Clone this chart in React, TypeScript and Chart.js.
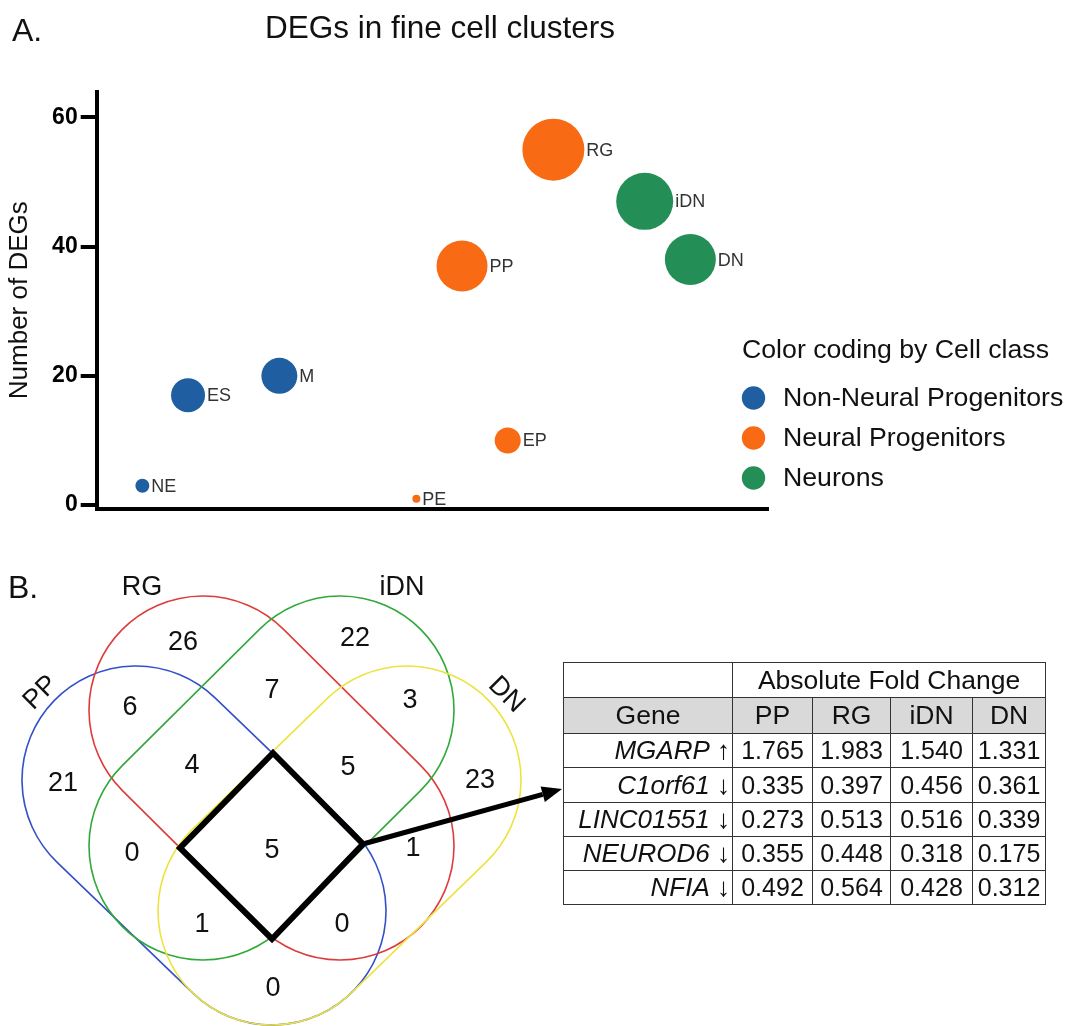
import React, { useEffect, useRef } from "react";
import { Chart, registerables } from "chart.js";

Chart.register(...registerables);

const FONT = "'Liberation Sans', Arial, Helvetica, sans-serif";

// ---------- Panel A data ----------
const figureTitle = "DEGs in fine cell clusters";
const yAxisTitle = "Number of DEGs";
const legendTitle = "Color coding by Cell class";
const cellClasses = ["Non-Neural Progenitors", "Neural Progenitors", "Neurons"];
const classColors = ["#1f5fa1", "#f86a14", "#238f56"];
const clusterNames = ["NE", "ES", "M", "PE", "PP", "EP", "RG", "iDN", "DN"];
const clusterClass = [0, 0, 0, 1, 1, 1, 1, 2, 2];
const clusterPosition = [1, 2, 4, 7, 8, 9, 10, 12, 13];
const clusterDEGs = [3, 17, 20, 1, 37, 10, 55, 47, 38];
const clusterBubbleRadius = [7, 17, 18, 4, 25.5, 13, 31, 28.5, 25.5];
const yTicks = [0, 20, 40, 60];

// ---------- Panel B data ----------
const vennSets = ["PP", "RG", "iDN", "DN"];
const vennSetColors = ["#3350c8", "#de3b3b", "#31a83a", "#ede340"];
const vennRegions = [
  "PP", "RG", "iDN", "DN",
  "PP∩RG", "RG∩iDN", "iDN∩DN",
  "PP∩RG∩iDN", "RG∩iDN∩DN", "PP∩iDN",
  "PP∩RG∩iDN∩DN", "PP∩iDN∩DN", "RG∩DN", "PP∩RG∩DN", "PP∩DN",
];
const vennCounts = [21, 26, 22, 23, 6, 7, 3, 4, 5, 0, 5, 1, 1, 0, 0];

const tableHeader = "Absolute Fold Change";
const tableGroups = ["PP", "RG", "iDN", "DN"];
const genes = ["MGARP", "C1orf61", "LINC01551", "NEUROD6", "NFIA"];
const geneDirection = ["↑", "↓", "↓", "↓", "↓"];
const foldPP = ["1.765", "0.335", "0.273", "0.355", "0.492"];
const foldRG = ["1.983", "0.397", "0.513", "0.448", "0.564"];
const foldIDN = ["1.540", "0.456", "0.516", "0.318", "0.428"];
const foldDN = ["1.331", "0.361", "0.339", "0.175", "0.312"];

// ---------- Venn layout (page coordinates) ----------
const vennShapeAxes = [
  [136, 780, 272, 911],
  [203, 710, 340, 846],
  [340, 710, 203, 846],
  [407, 780, 272, 911],
];
const vennShapeRadius = 114;
const vennRegionPos = [
  [63, 783], [183, 642], [355, 638], [480, 780],
  [130, 707], [272, 690], [410, 700],
  [192, 765], [348, 767], [132, 853],
  [272, 850], [202, 924], [413, 848], [342, 924], [273, 988],
];
const vennSetLabelPos = [
  [40, 692, -45],
  [142, 587, 0],
  [402, 587, 0],
  [507, 694, 45],
];
const diamondPts = [[273, 753], [363, 844], [272, 939], [180, 848]];
const arrowPts = [[363, 844], [562, 789]];

const bubbleLabelPlugin = {
  id: "bubbleLabels",
  afterDatasetsDraw(chart: any) {
    const ctx = chart.ctx;
    ctx.save();
    ctx.font = `18px ${FONT}`;
    ctx.fillStyle = "#333";
    ctx.textAlign = "left";
    ctx.textBaseline = "middle";
    chart.data.datasets.forEach((ds: any, i: number) => {
      const meta = chart.getDatasetMeta(i);
      meta.data.forEach((el: any, j: number) => {
        const raw = ds.data[j];
        ctx.fillText(raw.label, el.x + raw.r + 2, el.y + 1);
      });
    });
    ctx.restore();
  },
};

const classLegendPlugin = {
  id: "classLegend",
  afterDraw(chart: any) {
    const ctx = chart.ctx;
    ctx.save();
    ctx.textAlign = "left";
    ctx.textBaseline = "middle";
    ctx.font = `26.7px ${FONT}`;
    ctx.fillStyle = "#111";
    ctx.fillText(legendTitle, 742, 351);
    chart.data.datasets.forEach((ds: any, i: number) => {
      const y = 398 + 40 * i;
      ctx.beginPath();
      ctx.arc(753.5, y, 11.7, 0, Math.PI * 2);
      ctx.fillStyle = ds.backgroundColor;
      ctx.fill();
      ctx.fillStyle = "#111";
      ctx.fillText(ds.label, 783, y + 1);
    });
    ctx.restore();
  },
};

const vennPlugin = {
  id: "vennShapes",
  beforeDatasetsDraw(chart: any) {
    const ctx = chart.ctx;
    const xs = chart.scales.x;
    const ys = chart.scales.y;
    const px = (v: number) => xs.getPixelForValue(v);
    const py = (v: number) => ys.getPixelForValue(v);
    const R = px(vennShapeRadius) - px(0);
    ctx.save();
    vennShapeAxes.forEach((a, i) => {
      const x1 = px(a[0]), y1 = py(a[1]), x2 = px(a[2]), y2 = py(a[3]);
      const th = Math.atan2(y2 - y1, x2 - x1);
      ctx.beginPath();
      ctx.arc(x1, y1, R, th + Math.PI / 2, th + (3 * Math.PI) / 2);
      ctx.arc(x2, y2, R, th - Math.PI / 2, th + Math.PI / 2);
      ctx.closePath();
      ctx.strokeStyle = vennSetColors[i];
      ctx.lineWidth = 1.6;
      ctx.stroke();
    });
    ctx.restore();
  },
  afterDatasetsDraw(chart: any) {
    const ctx = chart.ctx;
    const xs = chart.scales.x;
    const ys = chart.scales.y;
    const px = (v: number) => xs.getPixelForValue(v);
    const py = (v: number) => ys.getPixelForValue(v);
    ctx.save();
    ctx.beginPath();
    diamondPts.forEach((p, i) => {
      if (i === 0) ctx.moveTo(px(p[0]), py(p[1]));
      else ctx.lineTo(px(p[0]), py(p[1]));
    });
    ctx.closePath();
    ctx.strokeStyle = "#000";
    ctx.lineWidth = 6;
    ctx.lineJoin = "miter";
    ctx.stroke();
    const ax1 = px(arrowPts[0][0]), ay1 = py(arrowPts[0][1]);
    const ax2 = px(arrowPts[1][0]), ay2 = py(arrowPts[1][1]);
    const ang = Math.atan2(ay2 - ay1, ax2 - ax1);
    const headLen = 20, headW = 8;
    const bx = ax2 - headLen * Math.cos(ang), by = ay2 - headLen * Math.sin(ang);
    ctx.beginPath();
    ctx.moveTo(ax1, ay1);
    ctx.lineTo(bx, by);
    ctx.lineWidth = 5;
    ctx.stroke();
    ctx.beginPath();
    ctx.moveTo(ax2, ay2);
    ctx.lineTo(bx + headW * Math.sin(ang), by - headW * Math.cos(ang));
    ctx.lineTo(bx - headW * Math.sin(ang), by + headW * Math.cos(ang));
    ctx.closePath();
    ctx.fillStyle = "#000";
    ctx.fill();
    ctx.font = `27px ${FONT}`;
    ctx.fillStyle = "#111";
    ctx.textAlign = "center";
    ctx.textBaseline = "middle";
    const meta = chart.getDatasetMeta(0);
    const ds = chart.data.datasets[0];
    meta.data.forEach((el: any, j: number) => {
      ctx.fillText(String(ds.data[j].count), el.x, el.y + 1);
    });
    vennSets.forEach((name, i) => {
      const p = vennSetLabelPos[i];
      ctx.save();
      ctx.translate(px(p[0]), py(p[1]));
      ctx.rotate((p[2] * Math.PI) / 180);
      ctx.fillText(name, 0, 1);
      ctx.restore();
    });
    ctx.restore();
  },
};

export default function App() {
  const refA = useRef<HTMLCanvasElement>(null);
  const refB = useRef<HTMLCanvasElement>(null);

  useEffect(() => {
    document.body.style.margin = "0";
    const datasets = cellClasses.map((cls, ci) => ({
      label: cls,
      backgroundColor: classColors[ci],
      borderWidth: 0,
      data: clusterNames
        .map((name, i) => ({
          x: clusterPosition[i],
          y: clusterDEGs[i],
          r: clusterBubbleRadius[i],
          label: name,
          cls: clusterClass[i],
        }))
        .filter((d) => d.cls === ci),
    }));

    const chartA = new Chart(refA.current as HTMLCanvasElement, {
      type: "bubble",
      data: { datasets },
      options: {
        animation: false,
        responsive: false,
        events: [],
        layout: { padding: { left: 0, top: 91.5, right: 302, bottom: 26.8 } },
        plugins: {
          legend: { display: false },
          tooltip: { enabled: false },
          title: { display: false },
        },
        scales: {
          x: {
            type: "linear",
            min: 0,
            max: 14.7,
            ticks: { display: false },
            grid: { display: false, drawTicks: false },
            border: { display: true, width: 4, color: "#000" },
            afterFit: (s: any) => {
              s.height = 0;
            },
          },
          y: {
            type: "linear",
            min: -0.6,
            max: 64,
            afterBuildTicks: (s: any) => {
              s.ticks = yTicks.map((v) => ({ value: v }));
            },
            ticks: {
              color: "#000",
              padding: 3,
              font: { family: FONT, size: 23, weight: "bold" },
            },
            grid: {
              drawOnChartArea: false,
              drawTicks: true,
              tickLength: 16,
              tickWidth: 4,
              tickColor: "#000",
              lineWidth: 4,
            },
            border: { display: true, width: 4, color: "#000" },
            title: {
              display: true,
              text: yAxisTitle,
              color: "#111",
              font: { family: FONT, size: 26 },
              padding: { top: 4, bottom: 0 },
            },
            afterFit: (s: any) => {
              s.width = 96.7;
            },
          },
        },
      } as any,
      plugins: [bubbleLabelPlugin, classLegendPlugin],
    });

    const chartB = new Chart(refB.current as HTMLCanvasElement, {
      type: "scatter",
      data: {
        datasets: [
          {
            label: "Venn regions",
            data: vennRegionPos.map((p, i) => ({
              x: p[0],
              y: p[1],
              count: vennCounts[i],
              region: vennRegions[i],
            })),
            pointRadius: 0,
            pointHoverRadius: 0,
          },
        ],
      },
      options: {
        animation: false,
        responsive: false,
        events: [],
        layout: { padding: 0 },
        plugins: { legend: { display: false }, tooltip: { enabled: false } },
        scales: {
          x: { type: "linear", display: false, min: 0, max: 575 },
          y: { type: "linear", display: false, min: 560, max: 1026, reverse: true },
        },
      } as any,
      plugins: [vennPlugin],
    });

    return () => {
      chartA.destroy();
      chartB.destroy();
    };
  }, []);

  const colW = [169, 80, 78, 82, 73];
  const rowH = [35, 36, 34, 35, 34, 34, 34];
  const folds = [foldPP, foldRG, foldIDN, foldDN];
  const cell: React.CSSProperties = {
    border: "1px solid #333",
    padding: 0,
    textAlign: "center",
    verticalAlign: "middle",
    whiteSpace: "nowrap",
    overflow: "hidden",
  };

  return (
    <div
      style={{
        position: "relative",
        width: 1070,
        height: 1026,
        background: "#fff",
        overflow: "hidden",
        fontFamily: FONT,
        color: "#111",
      }}
    >
      <canvas
        ref={refA}
        width={1070}
        height={540}
        style={{ position: "absolute", left: 0, top: 0, display: "block" }}
      />
      <canvas
        ref={refB}
        width={575}
        height={466}
        style={{ position: "absolute", left: 0, top: 560, display: "block" }}
      />
      <div style={{ position: "absolute", left: 12, top: 14, fontSize: 32, lineHeight: "32px" }}>A.</div>
      <div style={{ position: "absolute", left: 265, top: 12, fontSize: 31.5, lineHeight: "31.5px" }}>{figureTitle}</div>
      <div style={{ position: "absolute", left: 8, top: 571, fontSize: 32, lineHeight: "32px" }}>B.</div>
      <table
        style={{
          position: "absolute",
          left: 563,
          top: 662,
          borderCollapse: "collapse",
          tableLayout: "fixed",
          width: colW.reduce((a, b) => a + b, 0),
          fontSize: 25,
          fontFamily: FONT,
          color: "#111",
        }}
      >
        <colgroup>
          {colW.map((w, i) => (
            <col key={i} style={{ width: w }} />
          ))}
        </colgroup>
        <tbody>
          <tr style={{ height: rowH[0] }}>
            <td style={cell}></td>
            <td style={{ ...cell, fontSize: 26.5 }} colSpan={4}>
              {tableHeader}
            </td>
          </tr>
          <tr style={{ height: rowH[1], background: "#d9d9d9" }}>
            <td style={{ ...cell, fontSize: 26.5 }}>Gene</td>
            {tableGroups.map((g) => (
              <td key={g} style={{ ...cell, fontSize: 26.5 }}>
                {g}
              </td>
            ))}
          </tr>
          {genes.map((g, i) => (
            <tr key={g} style={{ height: rowH[i + 2] }}>
              <td style={{ ...cell, textAlign: "right", paddingRight: 2, fontSize: 26 }}>
                <i>{g}</i> {geneDirection[i]}
              </td>
              {folds.map((f, k) => (
                <td key={k} style={cell}>
                  {f[i]}
                </td>
              ))}
            </tr>
          ))}
        </tbody>
      </table>
    </div>
  );
}
